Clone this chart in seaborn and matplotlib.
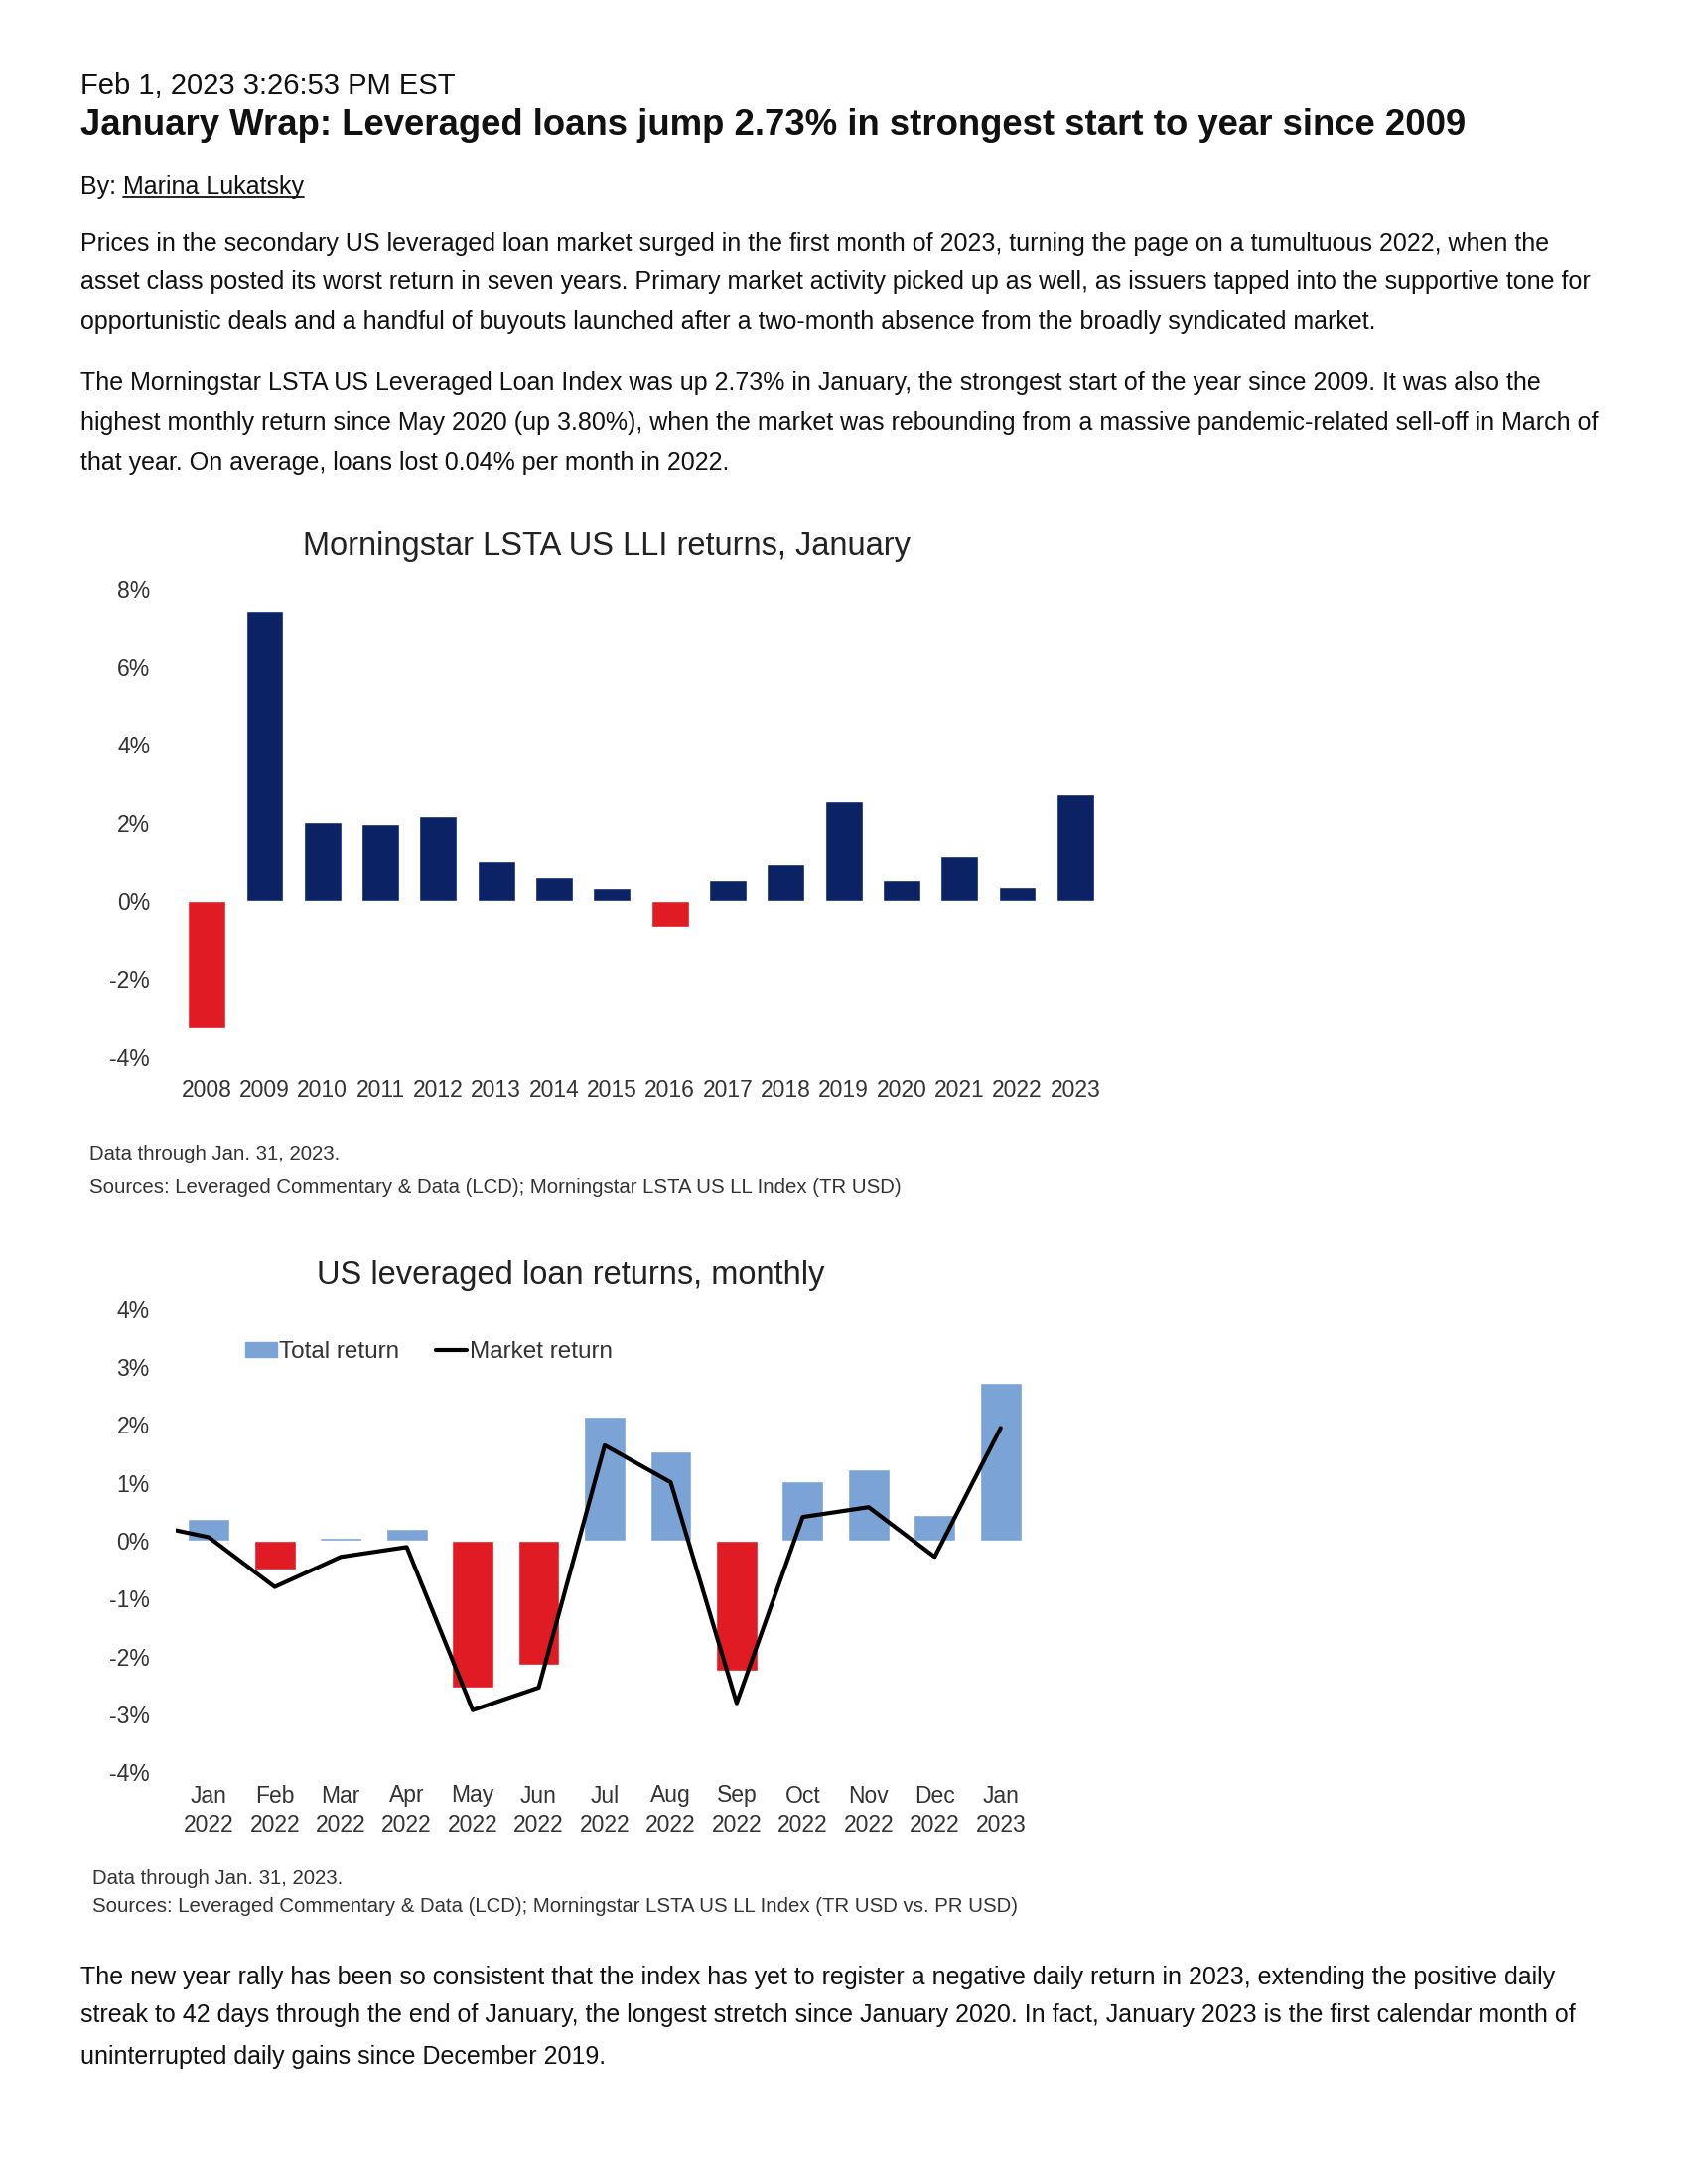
import numpy as np
import pandas as pd
import seaborn as sns
import matplotlib.pyplot as plt
from matplotlib.patches import Patch
from matplotlib.lines import Line2D

# --- article text ---
date_line = "Feb 1, 2023 3:26:53 PM EST"
headline = "January Wrap: Leveraged loans jump 2.73% in strongest start to year since 2009"
author = "Marina Lukatsky"
para1 = [
    "Prices in the secondary US leveraged loan market surged in the first month of 2023, turning the page on a tumultuous 2022, when the",
    "asset class posted its worst return in seven years. Primary market activity picked up as well, as issuers tapped into the supportive tone for",
    "opportunistic deals and a handful of buyouts launched after a two-month absence from the broadly syndicated market.",
]
para2 = [
    "The Morningstar LSTA US Leveraged Loan Index was up 2.73% in January, the strongest start of the year since 2009. It was also the",
    "highest monthly return since May 2020 (up 3.80%), when the market was rebounding from a massive pandemic-related sell-off in March of",
    "that year. On average, loans lost 0.04% per month in 2022.",
]
para3 = [
    "The new year rally has been so consistent that the index has yet to register a negative daily return in 2023, extending the positive daily",
    "streak to 42 days through the end of January, the longest stretch since January 2020. In fact, January 2023 is the first calendar month of",
    "uninterrupted daily gains since December 2019.",
]

# --- chart 1: January returns by year ---
jan_years = [str(y) for y in range(2008, 2024)]
jan_returns = [-3.25, 7.45, 2.03, 1.98, 2.18, 1.03, 0.63, 0.31, -0.68,
               0.54, 0.95, 2.55, 0.54, 1.17, 0.36, 2.73]
jan_ticks = [-4, -2, 0, 2, 4, 6, 8]
jan_title = "Morningstar LSTA US LLI returns, January"
jan_note = "Data through Jan. 31, 2023."
jan_source = "Sources: Leveraged Commentary & Data (LCD); Morningstar LSTA US LL Index (TR USD)"

# --- chart 2: monthly returns ---
months = ["Jan\n2022", "Feb\n2022", "Mar\n2022", "Apr\n2022", "May\n2022", "Jun\n2022",
          "Jul\n2022", "Aug\n2022", "Sep\n2022", "Oct\n2022", "Nov\n2022", "Dec\n2022",
          "Jan\n2023"]
total_return = [0.37, -0.50, 0.05, 0.21, -2.54, -2.15, 2.15, 1.55, -2.25,
                1.03, 1.24, 0.44, 2.73]
market_start = 0.18
market_return = [0.06, -0.80, -0.28, -0.11, -2.93, -2.54, 1.65, 1.01, -2.81,
                 0.41, 0.58, -0.28, 1.95]
mon_ticks = [-4, -3, -2, -1, 0, 1, 2, 3, 4]
mon_title = "US leveraged loan returns, monthly"
mon_note = "Data through Jan. 31, 2023."
mon_source = "Sources: Leveraged Commentary & Data (LCD); Morningstar LSTA US LL Index (TR USD vs. PR USD)"

NAVY = "#0b2265"
RED = "#e01b23"
LIGHT = "#7ba3d6"

sns.set_style("white")
plt.rcParams["font.family"] = ["Liberation Sans", "DejaVu Sans"]

W, H = 1700, 2200
fig = plt.figure(figsize=(17, 22), dpi=100)


def fy(px):
    return 1 - px / H


def fx(px):
    return px / W


# article text
fig.text(fx(81), fy(84), date_line, fontsize=21, va="center_baseline", color="#111")
fig.text(fx(81), fy(123), headline, fontsize=26.3, fontweight="bold", va="center_baseline", color="#111")
by = fig.text(fx(81), fy(185), "By: ", fontsize=18, va="center_baseline", color="#111")
fig.canvas.draw()
r = fig.canvas.get_renderer()
bb = by.get_window_extent(r)
name = fig.text(bb.x1 / W, fy(185), author, fontsize=18, va="center_baseline", color="#111")
nb = name.get_window_extent(r)
fig.add_artist(Line2D([nb.x0 / W, nb.x1 / W], [nb.y0 / H + 0.0006] * 2, color="#111", lw=1.3))

for lines, ys in [(para1, [243, 282, 321]), (para2, [384, 424, 464]), (para3, [1989, 2028, 2069])]:
    for t, y in zip(lines, ys):
        fig.text(fx(81), fy(y), t, fontsize=18, va="center_baseline", color="#111")

# chart 1
ax1 = fig.add_axes([fx(179), fy(1065), (1112 - 179) / W, (1065 - 593) / H])
df1 = pd.DataFrame({"year": jan_years, "ret": jan_returns})
df1["sign"] = np.where(df1["ret"] < 0, "neg", "pos")
sns.barplot(data=df1, x="year", y="ret", hue="sign", palette={"pos": NAVY, "neg": RED},
            dodge=False, width=0.65, legend=False, saturation=1, ax=ax1)
ax1.set_xlim(-0.5, len(jan_years) - 0.5)
ax1.set_ylim(-4, 8)
ax1.set_yticks(jan_ticks)
ax1.set_yticklabels([f"{t}%" for t in jan_ticks])
ax1.set_xlabel("")
ax1.set_ylabel("")
ax1.tick_params(axis="both", length=0, labelsize=16.5, labelcolor="#333")
ax1.tick_params(axis="y", pad=20)
ax1.tick_params(axis="x", pad=16)
sns.despine(ax=ax1, left=True, bottom=True)
fig.text(fx(611), fy(547), jan_title, fontsize=23.5, ha="center", va="center_baseline", color="#222")
fig.text(fx(90), fy(1161), jan_note, fontsize=14.7, va="center_baseline", color="#333")
fig.text(fx(90), fy(1194), jan_source, fontsize=14.7, va="center_baseline", color="#333")

# chart 2
ax2 = fig.add_axes([fx(177), fy(1785), (1041 - 177) / W, (1785 - 1319) / H])
df2 = pd.DataFrame({"month": months, "ret": total_return})
df2["sign"] = np.where(df2["ret"] < 0, "neg", "pos")
sns.barplot(data=df2, x="month", y="ret", hue="sign", palette={"pos": LIGHT, "neg": RED},
            dodge=False, width=0.63, legend=False, saturation=1, ax=ax2)
xs = np.r_[-0.5, np.arange(len(months))]
sns.lineplot(x=xs, y=[market_start] + market_return, color="black", lw=3, sort=False, ax=ax2)
ax2.set_xticks(range(len(months)))
ax2.set_xticklabels(months, linespacing=1.35)
ax2.set_xlim(-0.5, len(months) - 0.5)
ax2.set_ylim(-4, 4)
ax2.set_yticks(mon_ticks)
ax2.set_yticklabels([f"{t}%" for t in mon_ticks])
ax2.set_xlabel("")
ax2.set_ylabel("")
ax2.tick_params(axis="both", length=0, labelsize=16.5, labelcolor="#333")
ax2.tick_params(axis="y", pad=19)
ax2.tick_params(axis="x", pad=9)
sns.despine(ax=ax2, left=True, bottom=True)
handles = [Patch(color=LIGHT), Line2D([], [], color="black", lw=3)]
ax2.legend(handles, ["Total return", "Market return"], loc="center left",
           bbox_to_anchor=(fx(235), fy(1362)), bbox_transform=fig.transFigure,
           frameon=False, ncol=2, fontsize=17.5, handlelength=1.3, handleheight=0.6,
           handletextpad=0.1, columnspacing=1.5, borderpad=0, labelcolor="#333")
fig.text(fx(575), fy(1281), mon_title, fontsize=23.5, ha="center", va="center_baseline", color="#222")
fig.text(fx(93), fy(1891), mon_note, fontsize=14.7, va="center_baseline", color="#333")
fig.text(fx(93), fy(1919), mon_source, fontsize=14.7, va="center_baseline", color="#333")

fig.savefig("out.png", dpi=100, facecolor="white")
